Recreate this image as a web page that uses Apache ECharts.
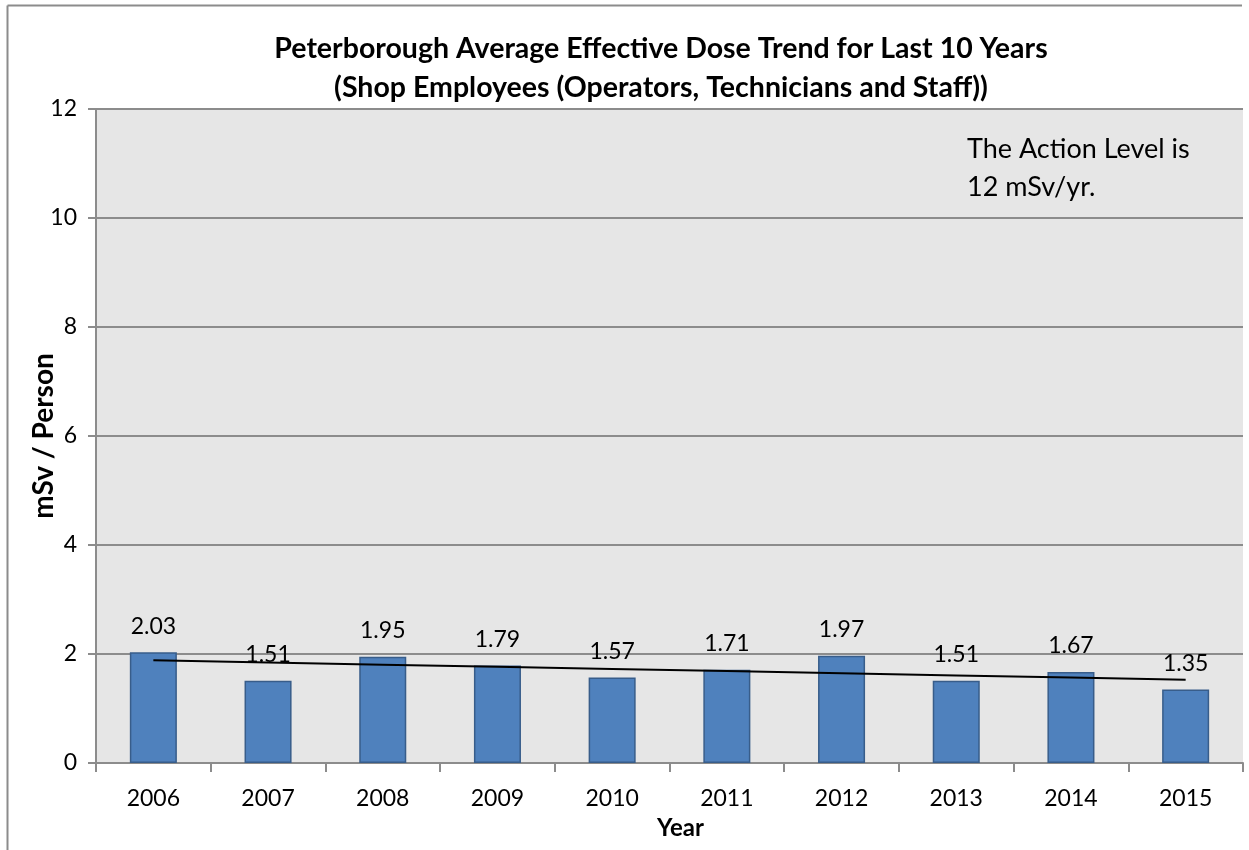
<!DOCTYPE html>
<html>
<head>
<meta charset="utf-8">
<script src="https://cdn.jsdelivr.net/npm/echarts@6/dist/echarts.min.js"></script>
<style>
  html, body { margin: 0; padding: 0; background: #ffffff; }
  #chart { width: 1249px; height: 850px; }
</style>
</head>
<body>
<div id="chart"></div>
<script>
// Average effective dose per shop employee, by year
const years = ['2006', '2007', '2008', '2009', '2010', '2011', '2012', '2013', '2014', '2015'];
const doses = [2.03, 1.51, 1.95, 1.79, 1.57, 1.71, 1.97, 1.51, 1.67, 1.35];
const yTicks = [0, 2, 4, 6, 8, 10, 12];

// Least-squares linear trend over the yearly values
function linearTrend(values) {
  const n = values.length;
  const mx = (n - 1) / 2;
  const my = values.reduce((a, b) => a + b, 0) / n;
  let sxy = 0, sxx = 0;
  values.forEach((v, i) => { sxy += (i - mx) * (v - my); sxx += (i - mx) * (i - mx); });
  const slope = sxy / sxx;
  return values.map((_, i) => my + slope * (i - mx));
}
const trend = linearTrend(doses);

const FONT = 'Lato, "Open Sans", sans-serif';
const chart = echarts.init(document.getElementById('chart'));

chart.setOption({
  animation: false,
  backgroundColor: '#ffffff',
  title: {
    text: 'Peterborough Average Effective Dose Trend for Last 10 Years\n(Shop Employees (Operators, Technicians and Staff))',
    left: 656,
    textAlign: 'center',
    top: 24,
    textStyle: { fontFamily: FONT, fontWeight: 'bold', fontSize: 28.5, lineHeight: 39, color: '#000' }
  },
  grid: { left: 96, right: 6, top: 109, bottom: 87, show: true, backgroundColor: '#e6e6e6', borderWidth: 0 },
  xAxis: {
    type: 'category',
    data: years,
    name: 'Year',
    nameLocation: 'middle',
    nameGap: 53,
    nameTextStyle: { fontFamily: FONT, fontWeight: 'bold', fontSize: 24, color: '#000', padding: [0, 0, 0, 22] },
    axisLine: { lineStyle: { color: '#8c8c8c', width: 2 } },
    axisTick: { show: true, length: 9, alignWithLabel: false, lineStyle: { color: '#8c8c8c', width: 2 } },
    axisLabel: { fontFamily: FONT, fontSize: 23, lineHeight: 23, color: '#000', margin: 24 }
  },
  yAxis: {
    type: 'value',
    min: yTicks[0],
    max: yTicks[yTicks.length - 1],
    interval: 2,
    axisLine: { show: true, lineStyle: { color: '#8c8c8c', width: 2 } },
    axisTick: { show: true, length: 8, lineStyle: { color: '#8c8c8c', width: 2 } },
    splitLine: { lineStyle: { color: '#8c8c8c', width: 2 } },
    axisLabel: { fontFamily: FONT, fontSize: 23, color: '#000', margin: 19 }
  },
  series: [
    {
      type: 'bar',
      data: doses,
      barWidth: '41%',
      itemStyle: { color: '#4f81bd', borderColor: '#385d8a', borderWidth: 1.5 },
      label: {
        show: true,
        position: 'top',
        distance: 14,
        fontFamily: FONT,
        fontSize: 23,
        lineHeight: 24,
        color: '#000',
        formatter: p => p.value.toFixed(2)
      },
      z: 2
    },
    {
      type: 'line',
      data: trend,
      symbol: 'none',
      lineStyle: { color: '#000', width: 2 },
      z: 3
    }
  ],
  graphic: [
    { type: 'line', shape: { x1: 7.5, y1: 5.5, x2: 1242, y2: 5.5 }, style: { stroke: '#8c8c8c', lineWidth: 2 } },
    { type: 'line', shape: { x1: 7.5, y1: 5.5, x2: 7.5, y2: 850 }, style: { stroke: '#8c8c8c', lineWidth: 2 } },
    {
      // vertical axis title
      type: 'text', x: 44, y: 436, rotation: Math.PI / 2,
      style: {
        text: 'mSv / Person', fontFamily: FONT, fontWeight: 'bold', fontSize: 28,
        fill: '#000', align: 'center', verticalAlign: 'middle'
      }
    },
    {
      type: 'text', left: 967, top: 130,
      style: { text: 'The Action Level is\n12 mSv/yr.', fontFamily: FONT, fontSize: 27, lineHeight: 38, fill: '#000' }
    }
  ]
});
</script>
</body>
</html>
